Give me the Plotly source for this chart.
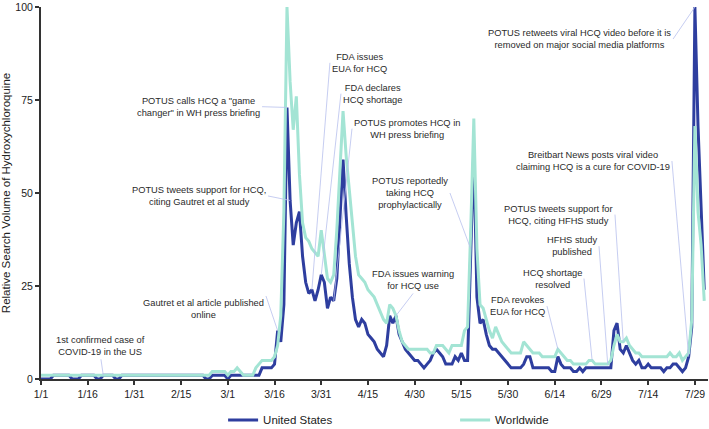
import pandas as pd
import plotly.graph_objects as go

dates = pd.date_range('2020-01-01', '2020-08-01', freq='D')

# relative search volume, one value per day (Jan ... Jul, plus Aug 1)
us = [
    0, 0, 0, 0, 1, 1, 1, 1, 1, 1, 0, 0, 0, 1, 1, 1, 1, 1, 0, 0,
    1, 1, 1, 1, 0, 0, 1, 1, 1, 1, 1,
    1, 1, 1, 1, 1, 1, 1, 1, 1, 1, 1, 1, 1, 1, 1, 1, 1, 1, 1, 1,
    1, 1, 0, 0, 1, 1, 1, 1, 1,
    0, 1, 1, 1, 1, 1, 1, 1, 1, 1, 1, 3, 3, 3, 3, 4, 13, 10, 20, 73,
    48, 36, 42, 45, 33, 26, 23, 24, 21, 24, 28,
    26, 19, 22, 21, 27, 43, 59, 44, 31, 22, 16, 14, 16, 15, 12, 11, 10, 8, 7, 6,
    9, 17, 15, 17, 12, 10, 8, 7, 6, 5,
    5, 4, 3, 4, 5, 7, 8, 7, 6, 4, 4, 4, 6, 5, 7, 5, 5, 35, 62, 22,
    15, 16, 12, 9, 8, 8, 7, 6, 5, 4, 3,
    3, 3, 3, 4, 6, 6, 3, 3, 3, 3, 3, 3, 2, 2, 6, 4, 3, 3, 3, 2,
    2, 3, 2, 3, 3, 3, 3, 3, 3, 3,
    3, 3, 13, 15, 8, 7, 9, 7, 5, 4, 5, 3, 3, 4, 3, 3, 3, 3, 2, 3,
    3, 4, 4, 3, 2, 3, 6, 14, 100, 68, 45,
    24,
]

worldwide = [
    1, 1, 1, 1, 1, 1, 1, 1, 1, 1, 1, 1, 1, 1, 1, 1, 1, 1, 1, 1,
    1, 1, 1, 1, 1, 1, 1, 1, 1, 1, 1,
    1, 1, 1, 1, 1, 1, 1, 1, 1, 1, 1, 1, 1, 1, 1, 1, 1, 1, 1, 1,
    1, 1, 1, 1, 2, 2, 2, 2, 2,
    1, 2, 2, 3, 2, 1, 1, 1, 1, 3, 4, 5, 5, 5, 5, 6, 9, 17, 45, 100,
    80, 67, 76, 55, 42, 38, 37, 35, 34, 33, 40,
    33, 27, 26, 28, 40, 58, 72, 60, 50, 42, 33, 28, 27, 26, 24, 23, 22, 20, 18, 16,
    15, 20, 19, 17, 13, 10, 9, 8, 8, 8,
    8, 8, 8, 8, 7, 7, 9, 9, 9, 8, 7, 9, 9, 9, 9, 13, 14, 40, 70, 35,
    20, 19, 16, 13, 11, 14, 12, 10, 9, 8, 7,
    7, 7, 7, 10, 9, 8, 7, 7, 7, 6, 6, 6, 6, 6, 8, 7, 6, 5, 5, 4,
    4, 4, 4, 4, 5, 5, 4, 4, 4, 4,
    4, 5, 9, 12, 10, 10, 11, 9, 8, 7, 7, 6, 6, 6, 6, 6, 6, 6, 6, 6,
    7, 6, 6, 7, 5, 6, 7, 16, 68, 45, 36,
    21,
]

series = {'us': us, 'ww': worldwide}

# event callouts: text, event date, which line it points at, text anchor position
events = [
    ("1st confirmed case of<br>COVID-19 in the US", '2020-01-21', 'ww', '2020-01-20 06:00', 5.3, 'center', 'bottom'),
    ("Gautret et al article published<br>online", '2020-03-17', 'us', '2020-03-13 06:00', 22.3, 'right', 'top'),
    ("POTUS tweets support for HCQ,<br>citing Gautret et al study", '2020-03-21', 'us', '2020-03-13 22:00', 49.2, 'right', 'middle'),
    ("POTUS calls HCQ a \"game<br>changer\" in WH press briefing", '2020-03-20', 'us', '2020-03-12 00:00', 73.2, 'right', 'middle'),
    ("FDA issues<br>EUA for HCQ", '2020-03-28', 'us', '2020-04-02 19:00', 85.0, 'left', 'middle'),
    ("FDA declares<br>HCQ shortage", '2020-03-31', 'us', '2020-04-06 08:00', 76.7, 'left', 'middle'),
    ("POTUS promotes HCQ in<br>WH press briefing", '2020-04-04', 'us', '2020-04-09 21:00', 67.3, 'left', 'middle'),
    ("POTUS reportedly<br>taking HCQ<br>prophylactically", '2020-05-18', 'us', '2020-05-11 08:00', 50.0, 'right', 'middle'),
    ("FDA issues warning<br>for HCQ use", '2020-04-24', 'us', '2020-04-29 12:00', 23.0, 'center', 'bottom'),
    ("FDA revokes<br>EUA for HCQ", '2020-06-15', 'ww', '2020-06-11 12:00', 19.6, 'right', 'middle'),
    ("HCQ shortage<br>resolved", '2020-06-26', 'ww', '2020-06-23 09:00', 27.0, 'right', 'middle'),
    ("HFHS study<br>published", '2020-07-01', 'ww', '2020-06-28 05:00', 35.7, 'right', 'middle'),
    ("POTUS tweets support for<br>HCQ, citing HFHS study", '2020-07-06', 'ww', '2020-07-03 08:00', 44.2, 'right', 'middle'),
    ("Breitbart News posts viral video<br>claiming HCQ is a cure for COVID-19", '2020-07-27', 'us', '2020-07-21 15:00', 58.6, 'right', 'middle'),
    ("POTUS retweets viral HCQ video before it is<br>removed on major social media platforms", '2020-07-29', 'us', '2020-07-22 00:00', 91.4, 'right', 'middle'),
]

FONT = 'Liberation Sans, Arial, sans-serif'

fig = go.Figure()
fig.add_trace(go.Scatter(x=dates, y=us, mode='lines', name='United States',
                         line=dict(color='#2E3E9F', width=3)))
fig.add_trace(go.Scatter(x=dates, y=worldwide, mode='lines', name='Worldwide',
                         line=dict(color='#A3E4D4', width=3)))

for text, day, key, tx, ty, xa, ya in events:
    idx = dates.get_loc(pd.Timestamp(day))
    fig.add_annotation(
        x=dates[idx], y=series[key][idx], text=text,
        showarrow=True, arrowhead=0, arrowwidth=0.8, arrowcolor='#B8C0EE',
        axref='x', ayref='y', ax=tx, ay=ty,
        xanchor=xa, yanchor=ya, align='center',
        font=dict(family=FONT, size=9.3, color='#2a2a2a'),
    )

fig.update_layout(
    width=709, height=429,
    margin=dict(l=41, r=1, t=7, b=50, autoexpand=False),
    plot_bgcolor='white', paper_bgcolor='white',
    font=dict(family=FONT, color='#222'),
    showlegend=True,
    legend=dict(orientation='h', x=0.273, xanchor='left', y=-0.11, yanchor='middle',
                font=dict(size=11.5, color='#222'), entrywidth=187, entrywidthmode='pixels'),
)
fig.update_xaxes(
    type='date', range=['2020-01-01', '2020-08-02 05:00'], automargin=False,
    tick0='2020-01-01', dtick=15 * 86400000, tickformat='%-m/%-d',
    showgrid=False, showline=True, linecolor='#333', linewidth=2,
    ticks='outside', ticklen=4, tickcolor='#333', tickwidth=1.5,
    tickfont=dict(size=10.5, color='#222'),
)
fig.update_yaxes(
    range=[0, 100], tickvals=[0, 25, 50, 75, 100], automargin=False,
    showgrid=False, zeroline=False, showline=True, linecolor='#333', linewidth=2,
    ticks='outside', ticklen=4, tickcolor='#333', tickwidth=1.5,
    tickfont=dict(size=10.5, color='#222'),
    title=dict(text='Relative Search Volume of Hydroxychloroquine',
               font=dict(size=11.5, color='#222'), standoff=4),
)

# the page body has a default 8px margin; drop it so the figure sits at the top-left corner
fig.write_html("out.html", config={'displayModeBar': False},
               post_script="document.body.style.margin='0';")
